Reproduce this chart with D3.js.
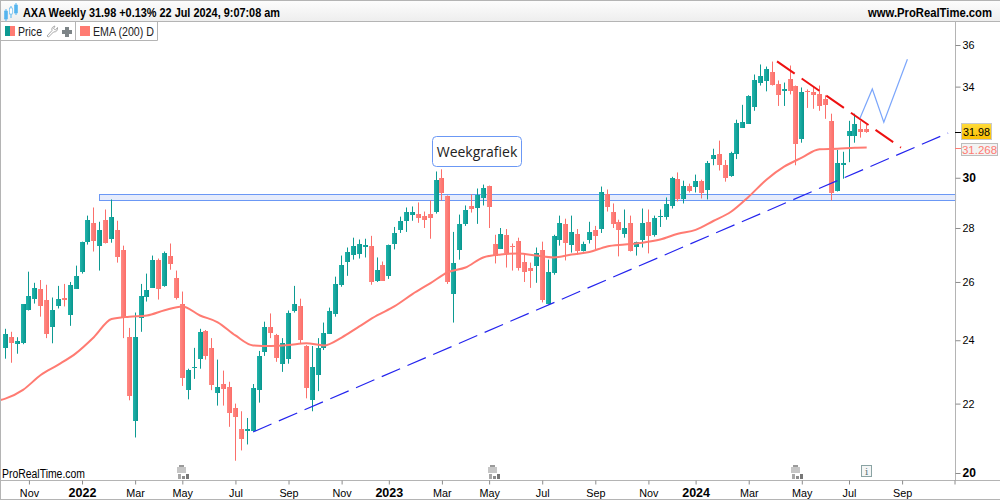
<!DOCTYPE html>
<html>
<head>
<meta charset="UTF-8">
<title>AXA Weekly</title>
<script src="https://d3js.org/d3.v7.min.js"></script>
<style>
  html, body { margin: 0; padding: 0; background: #fff; }
  svg { display: block; font-family: "Liberation Sans", Arial, sans-serif; }
  .axis path { stroke: #b4b4b4; }
  .axis line { stroke: #8c8c8c; }
  .axis text { fill: #000; font-size: 10.8px; font-family: "Liberation Sans", Arial, sans-serif; }
</style>
</head>
<body>
<svg width="1000" height="500"></svg>
<script>
// weekly candles, one entry per week, first week is Oct 2021
const opens = [23.75,24.10,23.87,23.90,25.03,25.41,25.76,25.38,24.45,25.17,
  25.45,24.86,25.76,26.37,27.48,28.20,27.33,28.32,27.59,27.93,
  27.15,24.10,21.46,24.76,25.48,25.79,26.81,25.83,26.93,26.15,
  25.24,22.44,23.11,23.40,24.31,23.75,22.32,22.60,22.51,21.86,
  21.26,21.20,21.20,22.41,23.62,24.45,24.17,23.21,23.40,25.00,
  25.14,23.81,22.10,22.89,23.75,24.21,24.90,25.90,26.74,26.96,
  27.04,27.30,27.33,26.04,26.63,26.22,27.41,27.93,28.28,28.52,
  28.56,28.48,28.56,28.64,30.00,29.24,25.55,27.19,28.16,28.84,
  28.76,29.20,29.68,27.41,27.22,27.74,27.30,27.52,26.74,26.52,
  26.56,27.15,25.24,26.33,27.56,28.16,27.37,27.78,27.15,27.56,
  27.93,27.93,29.32,28.64,28.24,27.78,28.20,27.30,27.56,28.24,
  27.74,28.44,28.40,28.88,29.96,29.16,29.68,29.64,29.88,29.48,
  30.78,31.00,30.52,30.09,31.00,32.13,32.31,33.07,34.14,34.24,
  34.71,34.14,33.84,34.38,34.05,31.61,33.78,33.73,33.64,33.42,
  32.44,29.44,30.54,31.78,31.78,32.09,32.09];
const closes = [24.21,23.90,23.97,25.21,25.52,25.79,25.17,24.21,25.03,25.41,
  25.38,25.90,26.22,27.48,28.32,27.52,27.93,27.44,28.44,26.93,
  24.76,22.22,24.10,25.52,25.72,26.81,25.76,27.04,26.63,25.45,
  22.79,23.05,23.14,24.28,23.49,22.57,22.51,22.44,21.71,21.60,
  20.97,21.26,22.48,23.49,24.45,24.24,23.43,23.90,24.93,25.24,
  24.00,22.48,23.14,23.75,24.24,24.97,25.93,26.63,27.11,27.30,
  27.41,27.36,26.00,26.44,26.04,27.37,27.81,28.28,28.64,28.64,
  28.40,28.32,28.40,29.92,29.40,25.97,26.67,28.16,28.72,28.72,
  29.28,29.60,28.84,26.96,27.78,27.07,27.26,26.52,26.37,26.41,
  27.04,25.34,26.37,27.70,28.20,27.44,27.85,27.15,27.41,27.85,
  27.70,29.40,28.80,28.16,27.93,28.00,27.15,27.48,28.20,27.70,
  28.40,28.48,28.92,30.00,29.16,29.68,29.48,29.88,29.40,30.61,
  30.96,30.52,29.96,31.04,32.36,32.40,33.56,34.33,34.48,34.81,
  34.10,33.64,33.91,33.82,31.43,33.73,33.73,33.60,33.07,33.16,
  29.40,30.61,30.61,32.00,32.31,31.96,31.98];
const highs = [24.38,24.28,24.10,25.21,26.37,25.97,26.07,25.90,25.45,25.86,
  25.93,26.00,26.59,27.48,28.48,28.80,28.24,28.72,29.12,28.28,
  27.33,24.41,24.93,25.93,26.30,26.96,26.85,27.11,27.41,26.41,
  25.66,23.08,23.75,24.38,24.34,24.07,23.37,23.02,22.67,22.00,
  21.77,21.57,22.60,23.65,24.62,24.90,24.21,24.07,25.00,25.86,
  25.41,23.84,23.81,24.07,24.59,25.10,26.19,26.96,27.26,27.63,
  27.56,27.59,27.70,26.89,26.74,27.37,28.04,28.44,28.80,28.84,
  29.00,28.64,29.08,30.26,30.35,29.28,27.85,28.52,28.88,29.32,
  29.56,29.72,29.68,27.74,28.00,27.96,27.41,27.63,27.04,26.70,
  27.26,27.48,26.81,27.74,28.48,28.36,28.48,27.96,27.48,28.24,
  28.08,29.64,29.52,28.96,28.32,28.72,28.48,27.48,28.76,28.72,
  28.48,28.72,29.20,30.04,30.22,29.88,29.76,30.13,29.92,30.70,
  31.22,31.57,30.74,31.09,32.49,33.16,33.60,34.57,35.05,34.95,
  35.19,34.29,34.19,35.00,34.05,33.96,33.87,34.00,34.05,33.60,
  32.76,31.17,31.09,32.44,32.76,32.44,32.27];
const lows = [23.40,23.27,23.56,23.87,25.00,25.24,24.79,24.07,23.90,25.07,
  25.14,24.48,25.76,26.30,27.37,27.11,26.41,27.41,27.44,26.70,
  24.07,22.10,21.00,24.28,25.31,25.79,25.38,25.83,26.44,25.38,
  22.54,22.13,22.76,23.08,23.37,22.41,21.94,21.94,21.31,20.34,
  20.63,20.80,21.17,22.03,23.49,24.07,23.30,22.98,23.24,24.93,
  23.90,22.16,21.77,22.38,23.68,24.21,24.79,25.83,26.22,26.81,
  26.85,26.89,25.90,26.00,26.04,26.11,27.19,27.81,27.85,28.28,
  28.20,28.00,27.59,28.56,29.08,25.93,24.59,26.81,28.08,28.60,
  28.16,28.88,28.00,26.67,27.22,26.52,26.41,26.41,26.00,25.79,
  25.97,25.28,25.21,26.26,27.33,26.78,27.07,27.00,27.11,27.41,
  27.19,27.81,28.64,28.00,26.93,27.63,27.11,26.96,27.26,27.04,
  27.67,28.04,28.32,28.76,29.04,28.96,29.40,29.40,29.16,29.12,
  30.52,30.30,29.84,30.04,30.78,32.13,32.31,32.89,34.05,33.78,
  34.05,33.11,33.11,33.64,30.52,31.48,33.02,32.98,32.89,32.53,
  29.08,29.44,29.96,30.65,31.48,31.70,31.91];

// EMA 200 every third week
const emaWeeks = [-1,0,3,6,9,12,15,18,21,24,27,30,33,36,39,42,45,48,51,54,57,60,63,66,69,72,75,78,81,84,87,90,93,96,99,102,105,108,111,114,117,120,123,126,129,132,135,138,141,144,146];
const emaValues = [22.10,22.15,22.42,22.88,23.21,23.58,24.10,24.71,24.79,24.83,25.01,25.14,24.83,24.60,24.16,23.83,23.81,23.84,23.90,23.83,24.09,24.46,24.83,25.15,25.57,25.95,26.35,26.52,26.89,27.00,27.04,26.96,26.89,27.00,27.09,27.30,27.37,27.44,27.56,27.78,27.93,28.27,28.63,29.23,29.92,30.46,30.84,31.20,31.22,31.26,31.268];

const priceTicks = [20, 22, 24, 26, 28, 30, 34, 36];
const boldPrices = [20, 30];
const tickWeeks = [4, 13, 22, 30, 39, 48, 57, 65, 74, 82, 91, 100, 109, 117, 126, 135, 143, 152];
const tickLabels = ['Nov', '2022', 'Mar', 'May', 'Jul', 'Sep', 'Nov', '2023', 'Mar', 'May', 'Jul', 'Sep', 'Nov', '2024', 'Mar', 'May', 'Jul', 'Sep'];

// drawn objects as [week, price]
const supportLine = [[42, 21.16], [159.8, 31.9]];
const resistanceLine = [[130.8, 35.2], [151.8, 31.27]];
const forecastLine = [[144.86, 32.55], [146.95, 33.89], [148.9, 32.38], [152.9, 35.30]];
const bandWeeks = [15.9, 161];
const bandPrices = [29.33, 29.07];
const calendarWeeks = [30, 82.7, 134];

const svg = d3.select('svg');
const x = d3.scaleLinear().domain([0, 146]).range([5.33, 866.7]);
const y = d3.scaleLog().domain([20, 36]).range([473, 45]);

const defs = svg.append('defs');
function gradient(id, c0, c1) {
  const g = defs.append('linearGradient').attr('id', id);
  g.append('stop').attr('offset', '0%').attr('stop-color', c0);
  g.append('stop').attr('offset', '100%').attr('stop-color', c1);
}
gradient('up', '#22b4ab', '#07958d');
gradient('down', '#ff8a84', '#fb6d68');
const head = defs.append('linearGradient').attr('id', 'head').attr('x2', 0).attr('y2', 1);
head.append('stop').attr('offset', '0%').attr('stop-color', '#fdfdfd');
head.append('stop').attr('offset', '100%').attr('stop-color', '#eeeeee');
const gold = defs.append('linearGradient').attr('id', 'gold').attr('x2', 0).attr('y2', 1);
gold.append('stop').attr('offset', '0%').attr('stop-color', '#ffdc3c');
gold.append('stop').attr('offset', '100%').attr('stop-color', '#fabe00');

// squeeze a label to the width it has in the picture, keeping its height
function fitted(t, len) {
  return t.attr('textLength', len).attr('lengthAdjust', 'spacingAndGlyphs');
}

// support band
svg.append('rect')
  .attr('x', Math.floor(x(bandWeeks[0])) + 0.5)
  .attr('y', Math.floor(y(bandPrices[0])) + 0.5)
  .attr('width', x(bandWeeks[1]) - x(bandWeeks[0]))
  .attr('height', Math.round(y(bandPrices[1]) - y(bandPrices[0])))
  .attr('fill', '#e6ecfc').attr('stroke', '#6b98f5').attr('stroke-width', 1);

// candles
const candles = d3.range(opens.length);
const cg = svg.append('g');
cg.selectAll('.wick').data(candles).enter().append('rect')
  .attr('class', 'wick')
  .attr('x', i => Math.floor(x(i)))
  .attr('y', i => y(highs[i]))
  .attr('width', 1)
  .attr('height', i => y(lows[i]) - y(highs[i]))
  .attr('fill', i => closes[i] >= opens[i] ? '#0c9a92' : '#fb6f6a');
cg.selectAll('.body').data(candles).enter().append('rect')
  .attr('class', 'body')
  .attr('x', i => Math.floor(x(i)) - 2)
  .attr('y', i => Math.round(y(Math.max(opens[i], closes[i]))))
  .attr('width', 5)
  .attr('height', i => Math.max(1, Math.round(Math.abs(y(opens[i]) - y(closes[i])))))
  .attr('fill', i => closes[i] >= opens[i] ? 'url(#up)' : 'url(#down)');

// EMA
const lineGen = d3.line().x(d => x(d[0])).y(d => y(d[1]));
svg.append('path')
  .datum(d3.zip(emaWeeks, emaValues))
  .attr('fill', 'none').attr('stroke', '#ff7b72').attr('stroke-width', 2)
  .attr('d', d3.line().x(d => x(d[0])).y(d => y(d[1])).curve(d3.curveMonotoneX));

svg.append('path').datum(supportLine)
  .attr('fill', 'none').attr('stroke', '#2424ee').attr('stroke-width', 1.2)
  .attr('stroke-dasharray', '20 8').attr('d', lineGen);
svg.append('path').datum(resistanceLine)
  .attr('fill', 'none').attr('stroke', '#ee1111').attr('stroke-width', 2)
  .attr('stroke-dasharray', '21.5 8.5').attr('d', lineGen);
svg.append('path').datum(forecastLine)
  .attr('fill', 'none').attr('stroke', '#7ba6fb').attr('stroke-width', 1.2)
  .attr('d', lineGen);

// label box
svg.append('rect').attr('x', 432.5).attr('y', 136.5).attr('width', 89).attr('height', 30).attr('rx', 4)
  .attr('fill', '#fff').attr('stroke', '#6b98f5');
svg.append('text').attr('x', 477).attr('y', 157).attr('text-anchor', 'middle')
  .attr('font-family', '"Open Sans", sans-serif').attr('font-size', 14).attr('fill', '#222')
  .text('Weekgrafiek');

// axes
const axisY = svg.append('g').attr('class', 'axis')
  .attr('transform', 'translate(955.5,0)')
  .call(d3.axisRight(y).tickValues(priceTicks).tickFormat(d3.format('d')).tickSize(5).tickSizeOuter(0).tickPadding(2));
axisY.select('.domain').attr('d', 'M0,0V480');
axisY.selectAll('.tick text')
  .style('font-weight', d => boldPrices.includes(d) ? 'bold' : 'normal')
  .style('font-size', d => boldPrices.includes(d) ? '12px' : '10.8px');

const axisX = svg.append('g').attr('class', 'axis')
  .attr('transform', 'translate(0,480.5)')
  .call(d3.axisBottom(x).tickValues(tickWeeks).tickFormat((d, i) => tickLabels[i]).tickSize(4).tickSizeOuter(0).tickPadding(5));
axisX.select('.domain').attr('d', 'M0,0H1000');
axisX.selectAll('.tick text')
  .attr('dy', 0).attr('y', 16)
  .style('font-size', d => tickLabels[tickWeeks.indexOf(d)].length === 4 ? '12.5px' : '10.8px')
  .style('font-weight', d => tickLabels[tickWeeks.indexOf(d)].length === 4 ? 'bold' : 'normal');
axisX.append('line').attr('x1', 955).attr('x2', 955).attr('y1', 0).attr('y2', 4).attr('stroke', '#8c8c8c');

// price tags
svg.append('line').attr('x1', 955).attr('x2', 962).attr('y1', 132.5).attr('y2', 132.5).attr('stroke', '#000');
svg.append('rect').attr('x', 961.5).attr('y', 123.5).attr('width', 30).attr('height', 16)
  .attr('fill', 'url(#gold)').attr('stroke', '#c9c9c9');
svg.append('text').attr('x', 976.5).attr('y', 136).attr('text-anchor', 'middle')
  .attr('font-size', 10.8).attr('fill', '#000').text('31.98');
svg.append('line').attr('x1', 955).attr('x2', 962).attr('y1', 148.5).attr('y2', 148.5).attr('stroke', '#ff7b72');
svg.append('rect').attr('x', 961.5).attr('y', 143.5).attr('width', 36).attr('height', 12)
  .attr('fill', '#f3f3f3').attr('stroke', '#bdbdbd');
svg.append('text').attr('x', 979.5).attr('y', 153.5).attr('text-anchor', 'middle')
  .attr('font-size', 11.5).attr('fill', '#ff7b72').text('31.268');

// calendar and info markers on the time axis
const cal = svg.append('g').selectAll('g').data(calendarWeeks).enter().append('g')
  .attr('transform', d => `translate(${Math.round(x(d)) - 6},465)`);
cal.append('rect').attr('x', 1).attr('y', 2).attr('width', 9).attr('height', 6).attr('fill', '#c6c6c6');
cal.append('rect').attr('x', 3).attr('y', 0).attr('width', 5).attr('height', 2).attr('fill', '#9a9a9a');
cal.append('rect').attr('x', 2).attr('y', 9).attr('width', 3).attr('height', 5).attr('fill', '#a8a8a8');
cal.append('rect').attr('x', 6).attr('y', 11).attr('width', 3).attr('height', 3).attr('fill', '#8c8c8c');
cal.append('rect').attr('x', 10).attr('y', 9).attr('width', 3).attr('height', 5).attr('fill', '#777');
svg.append('rect').attr('x', 861.5).attr('y', 465.5).attr('width', 10).attr('height', 11)
  .attr('fill', '#f4f6f6').attr('stroke', '#8aa3a3');
svg.append('text').attr('x', 866.5).attr('y', 475).attr('text-anchor', 'middle')
  .attr('font-family', '"DejaVu Serif", serif').attr('font-size', 10).attr('fill', '#5d7a7a').text('i');

fitted(svg.append('text').attr('x', 2).attr('y', 478).attr('font-size', 12).attr('fill', '#000').text('ProRealTime.com'), 83);

// header
svg.append('rect').attr('x', 0).attr('y', 0).attr('width', 1000).attr('height', 21).attr('fill', 'url(#head)');
svg.append('line').attr('x1', 0).attr('x2', 1000).attr('y1', 0.5).attr('y2', 0.5).attr('stroke', '#b4b4b4');
svg.append('line').attr('x1', 0).attr('x2', 1000).attr('y1', 21.5).attr('y2', 21.5).attr('stroke', '#b4b4b4');
fitted(svg.append('text').attr('x', 23).attr('y', 17).attr('font-size', 12).attr('font-weight', 'bold')
  .attr('fill', '#000').text('AXA Weekly 31.98 +0.13% 22 Jul 2024, 9:07:08 am'), 257);
fitted(svg.append('text').attr('x', 868).attr('y', 17).attr('font-size', 12).attr('font-weight', 'bold')
  .attr('fill', '#000').text('www.ProRealTime.com'), 124);
// header candle icon
[[6, 11, 8], [11, 8, 8], [16, 5, 8]].forEach(d => {
  svg.append('rect').attr('x', d[0] - 0.5).attr('y', d[1] - 2).attr('width', 1).attr('height', d[2] + 4).attr('fill', '#55b4ee');
  svg.append('rect').attr('x', d[0] - 1.5).attr('y', d[1]).attr('width', 3).attr('height', d[2] - (d[0] === 11 ? 2 : 0))
    .attr('fill', d[0] === 11 ? '#ffffff' : '#55b4ee').attr('stroke', '#55b4ee').attr('stroke-width', 0.6);
});

// legend row
svg.append('path').attr('d', 'M0.5,40.5H157.5V22M75.5,22V40.5').attr('fill', 'none').attr('stroke', '#b4b4b4');
svg.append('rect').attr('x', 5).attr('y', 26).attr('width', 5).attr('height', 10).attr('fill', '#0c9a92');
svg.append('rect').attr('x', 10).attr('y', 26).attr('width', 5).attr('height', 10).attr('fill', '#ff7b72');
fitted(svg.append('text').attr('x', 18).attr('y', 36).attr('font-size', 12).attr('fill', '#222').text('Price'), 24);
svg.append('path').attr('d', 'M47,36L52,30.5Q51,27 55,26L53.5,28.5L55.5,30L57.5,27.5Q58,32 53.5,32L48.5,37Z')
  .attr('fill', 'none').attr('stroke', '#a8a8a8');
svg.append('path').attr('d', 'M65,27H69V30H72V34H69V37H65V34H62V30H65Z').attr('fill', '#7d8487');
svg.append('rect').attr('x', 80).attr('y', 26).attr('width', 10).attr('height', 10).attr('fill', '#ff7b72');
fitted(svg.append('text').attr('x', 93).attr('y', 36).attr('font-size', 12).attr('fill', '#222').text('EMA (200) D'), 61);

// window edges
svg.append('path').attr('d', 'M0.5,0V500M0,499.5H1000').attr('fill', 'none').attr('stroke', '#b4b4b4');
</script>
</body>
</html>
